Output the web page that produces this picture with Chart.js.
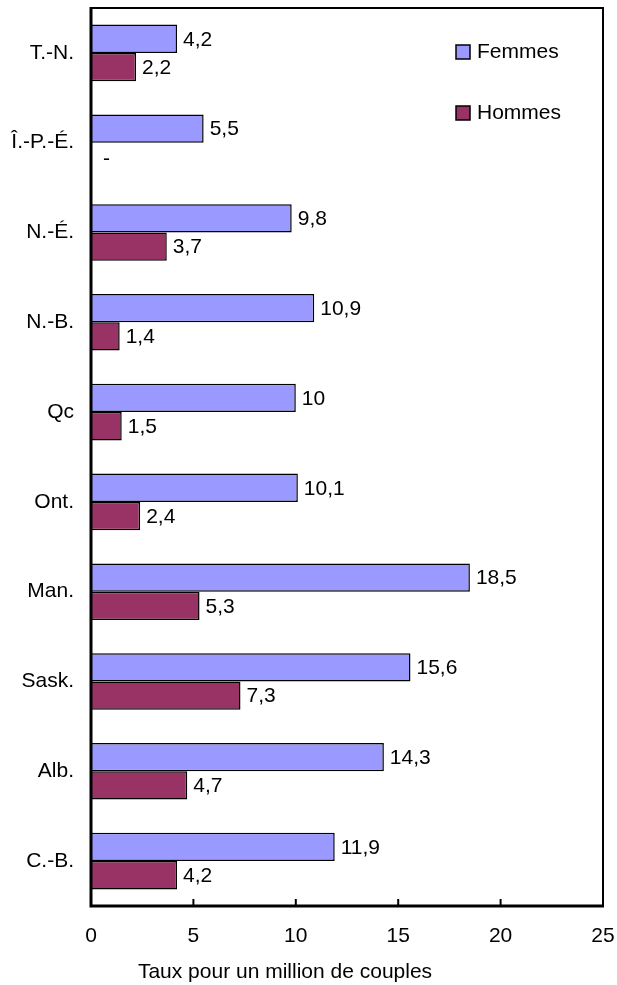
<!DOCTYPE html>
<html>
<head>
<meta charset="utf-8">
<script src="https://cdn.jsdelivr.net/npm/chart.js@4"></script>
<style>
  html, body { margin: 0; padding: 0; background: #fff; }
  #wrap { width: 617px; height: 985px; }
</style>
</head>
<body>
<div id="wrap"><canvas id="chart" width="617" height="985"></canvas></div>
<script>
const provinces = ["T.-N.", "Î.-P.-É.", "N.-É.", "N.-B.", "Qc", "Ont.", "Man.", "Sask.", "Alb.", "C.-B."];
const femmes = [4.2, 5.5, 9.8, 10.9, 10, 10.1, 18.5, 15.6, 14.3, 11.9];
const hommes = [2.2, null, 3.7, 1.4, 1.5, 2.4, 5.3, 7.3, 4.7, 4.2];
const xTicks = [0, 5, 10, 15, 20, 25];
const xTitle = 'Taux pour un million de couples';

const FONT = '"Liberation Sans", Arial, sans-serif';
const SIZE = 21;

// format numbers the french way (4,2)
const fmt = v => (v === null ? '-' : String(v).replace('.', ','));

// value labels next to each bar
const valueLabels = {
    id: 'valueLabels',
    afterDatasetsDraw(chart) {
        const ctx = chart.ctx;
        const x0 = chart.scales.x.getPixelForValue(0);
        ctx.save();
        ctx.font = SIZE + 'px ' + FONT;
        ctx.fillStyle = '#000';
        ctx.textBaseline = 'middle';
        ctx.textAlign = 'left';
        chart.data.datasets.forEach((ds, di) => {
            const meta = chart.getDatasetMeta(di);
            meta.data.forEach((bar, i) => {
                const v = ds.data[i];
                if (v === null) {
                    ctx.fillText('-', x0 + 12, bar.y + 2);
                } else {
                    ctx.fillText(fmt(v), bar.x + 6, bar.y + 1);
                }
            });
        });
        ctx.restore();
    }
};

// frame, inner tick marks, legend and axis title
const frame = {
    id: 'frame',
    afterDatasetsDraw(chart) {
        const ctx = chart.ctx;
        const a = chart.chartArea;
        const xs = chart.scales.x;
        ctx.save();
        ctx.strokeStyle = '#000';
        // top and right border
        ctx.lineWidth = 2;
        ctx.beginPath();
        ctx.moveTo(a.left, a.top);
        ctx.lineTo(a.right, a.top);
        ctx.lineTo(a.right, a.bottom);
        ctx.stroke();
        // left and bottom axes
        ctx.lineWidth = 3;
        ctx.beginPath();
        ctx.moveTo(a.left, a.top - 1);
        ctx.lineTo(a.left, a.bottom);
        ctx.lineTo(a.right + 1, a.bottom);
        ctx.stroke();
        // tick marks pointing into the plot
        ctx.lineWidth = 2;
        xTicks.forEach(t => {
            const px = xs.getPixelForValue(t);
            ctx.beginPath();
            ctx.moveTo(px, a.bottom);
            ctx.lineTo(px, a.bottom - 7);
            ctx.stroke();
        });
        // legend
        ctx.font = SIZE + 'px ' + FONT;
        ctx.textBaseline = 'middle';
        ctx.textAlign = 'left';
        const lx = a.right - 147;
        const rows = [52, 113];
        chart.data.datasets.forEach((ds, i) => {
            const ly = rows[i];
            ctx.fillStyle = ds.backgroundColor;
            ctx.fillRect(lx, ly - 7, 14, 14);
            ctx.lineWidth = 1.5;
            ctx.strokeRect(lx, ly - 7, 14, 14);
            ctx.fillStyle = '#000';
            ctx.fillText(ds.label, lx + 21, ly);
        });
        // x axis title
        ctx.textAlign = 'center';
        ctx.fillText(xTitle, 285, 972);
        ctx.restore();
    }
};

const ctx = document.getElementById('chart').getContext('2d');
new Chart(ctx, {
    type: 'bar',
    data: {
        labels: provinces,
        datasets: [
            {
                label: 'Femmes',
                data: femmes,
                backgroundColor: '#9999FF',
                borderColor: '#000',
                borderWidth: 1.5
            },
            {
                label: 'Hommes',
                data: hommes,
                backgroundColor: '#993366',
                borderColor: '#000',
                borderWidth: 1.5
            }
        ]
    },
    options: {
        indexAxis: 'y',
        responsive: false,
        animation: false,
        layout: { padding: { top: 8, right: 14, left: 0, bottom: 0 } },
        datasets: { bar: { categoryPercentage: 0.63, barPercentage: 1.0 } },
        plugins: {
            legend: { display: false },
            tooltip: { enabled: false }
        },
        scales: {
            x: {
                min: 0,
                max: 25,
                afterFit: scale => {
                    scale.height = 79;
                    scale.paddingLeft = 0;
                    scale.paddingRight = 0;
                },
                afterBuildTicks: scale => { scale.ticks = xTicks.map(v => ({ value: v })); },
                grid: { display: false, drawTicks: false },
                border: { display: false },
                ticks: {
                    padding: 18,
                    color: '#000',
                    font: { family: FONT, size: SIZE },
                    maxRotation: 0
                }
            },
            y: {
                afterFit: scale => {
                    scale.width = 91;
                    scale.paddingTop = 0;
                    scale.paddingBottom = 0;
                },
                grid: { display: false, drawTicks: false },
                border: { display: false },
                ticks: {
                    padding: 17,
                    color: '#000',
                    font: { family: FONT, size: SIZE }
                }
            }
        }
    },
    plugins: [valueLabels, frame]
});
</script>
</body>
</html>
